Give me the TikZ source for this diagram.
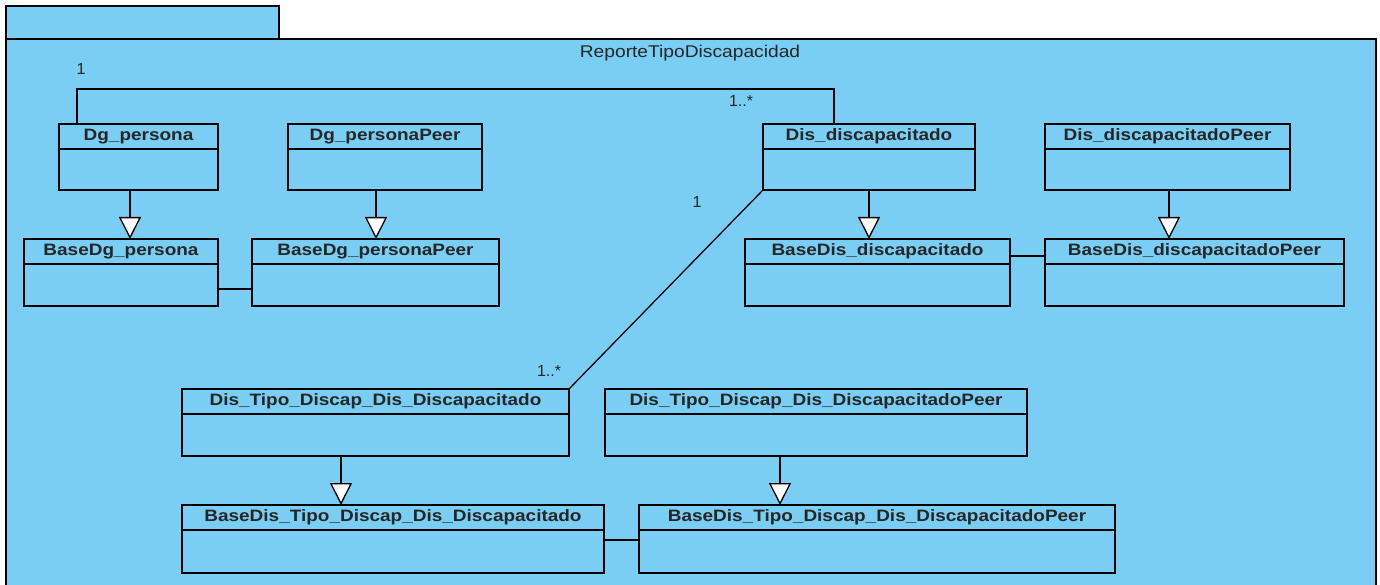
\documentclass[tikz,border=0pt]{standalone}
\usepackage{fontspec}
\usepackage{graphicx}
\setmainfont{Liberation Sans}
\usetikzlibrary{arrows.meta}
\definecolor{pkgblue}{RGB}{122,206,244}
\newcommand\hs[1]{\scalebox{1.15}[1]{#1}}
\newcommand\umlcls[6]{%
  \node[clsbox, minimum width={#4-#2}, minimum height={#5-#3}, anchor=north west] (#1) at (#2,#3) {};
  \draw[clsline] ([yshift=-25pt]#1.north west) -- ([yshift=-25pt]#1.north east);
  \node[clstitle] (#1-t) at ([yshift=-12.5pt]#1.north) {\hs{#6}};
}
\tikzset{
  clsbox/.style={draw=black, fill=pkgblue, line width=1.3pt, inner sep=0pt, outer sep=0pt, rectangle},
  clsline/.style={draw=black, line width=1.3pt},
  clstitle/.style={inner sep=0pt, font=\fontsize{16.5}{19}\selectfont\bfseries, text=black!85},
  gen/.style={draw=black, line width=1.3pt, -{Triangle[length=22pt, width=22pt, fill=white, line width=1.3pt]}},
  assoc/.style={draw=black, line width=1.3pt},
  mult/.style={inner sep=0pt, font=\fontsize{16}{18}\selectfont, text=black!85},
  pkg/.style={draw=black, fill=pkgblue, line width=1.3pt}
}
\begin{document}
\begin{tikzpicture}[x=1pt, y=-1pt]
\useasboundingbox (0,0) rectangle (1380,585);
\clip (0,0) rectangle (1380,585);
% package
\draw[pkg] (6,6) rectangle (279,39);
\draw[pkg] (6,39) rectangle (1376,620);
\node[inner sep=0pt, font=\fontsize{17}{19}\selectfont, text=black!85] (pkgtitle) at (690,53) {\scalebox{1.13}[1]{ReporteTipoDiscapacidad}};
% classes
\umlcls{dgp}{59}{124}{218}{190}{Dg\_persona}
\umlcls{dgpp}{288}{124}{482}{190}{Dg\_personaPeer}
\umlcls{dd}{763}{124}{975}{190}{Dis\_discapacitado}
\umlcls{ddp}{1045}{124}{1290}{190}{Dis\_discapacitadoPeer}
\umlcls{bdgp}{24}{239}{218}{306}{BaseDg\_persona}
\umlcls{bdgpp}{252}{239}{499}{306}{BaseDg\_personaPeer}
\umlcls{bdd}{745}{239}{1010}{306}{BaseDis\_discapacitado}
\umlcls{bddp}{1045}{239}{1344}{306}{BaseDis\_discapacitadoPeer}
\umlcls{dt}{182}{389}{569}{456}{Dis\_Tipo\_Discap\_Dis\_Discapacitado}
\umlcls{dtp}{605}{389}{1027}{456}{Dis\_Tipo\_Discap\_Dis\_DiscapacitadoPeer}
\umlcls{bdt}{182}{505}{604}{573}{BaseDis\_Tipo\_Discap\_Dis\_Discapacitado}
\umlcls{bdtp}{639}{505}{1115}{573}{BaseDis\_Tipo\_Discap\_Dis\_DiscapacitadoPeer}
% generalizations
\draw[gen] ([xshift=71pt]dgp.south west) -- ([xshift=106pt]bdgp.north west);
\draw[gen] ([xshift=88pt]dgpp.south west) -- ([xshift=124pt]bdgpp.north west);
\draw[gen] ([xshift=106pt]dd.south west) -- ([xshift=124pt]bdd.north west);
\draw[gen] ([xshift=124pt]ddp.south west) -- ([xshift=124pt]bddp.north west);
\draw[gen] ([xshift=159pt]dt.south west) -- ([xshift=159pt]bdt.north west);
\draw[gen] ([xshift=175pt]dtp.south west) -- ([xshift=141pt]bdtp.north west);
% associations
\draw[assoc] ([xshift=18pt]dgp.north west) -- ++(0,-35) -| ([xshift=71pt]dd.north west);
\draw[assoc] (dd.south west) -- (dt.north east);
\draw[assoc] ([yshift=-50pt]bdgp.north east) -- ([yshift=-50pt]bdgpp.north west);
\draw[assoc] ([yshift=-17pt]bdd.north east) -- ([yshift=-17pt]bddp.north west);
\draw[assoc] ([yshift=-35pt]bdt.north east) -- ([yshift=-35pt]bdtp.north west);
% multiplicities
\node[mult] (m1) at (81,69) {1};
\node[mult] (m2) at (741,101) {1..*};
\node[mult] (m3) at (697,202) {1};
\node[mult] (m4) at (549,371) {1..*};
\end{tikzpicture}
\end{document}
